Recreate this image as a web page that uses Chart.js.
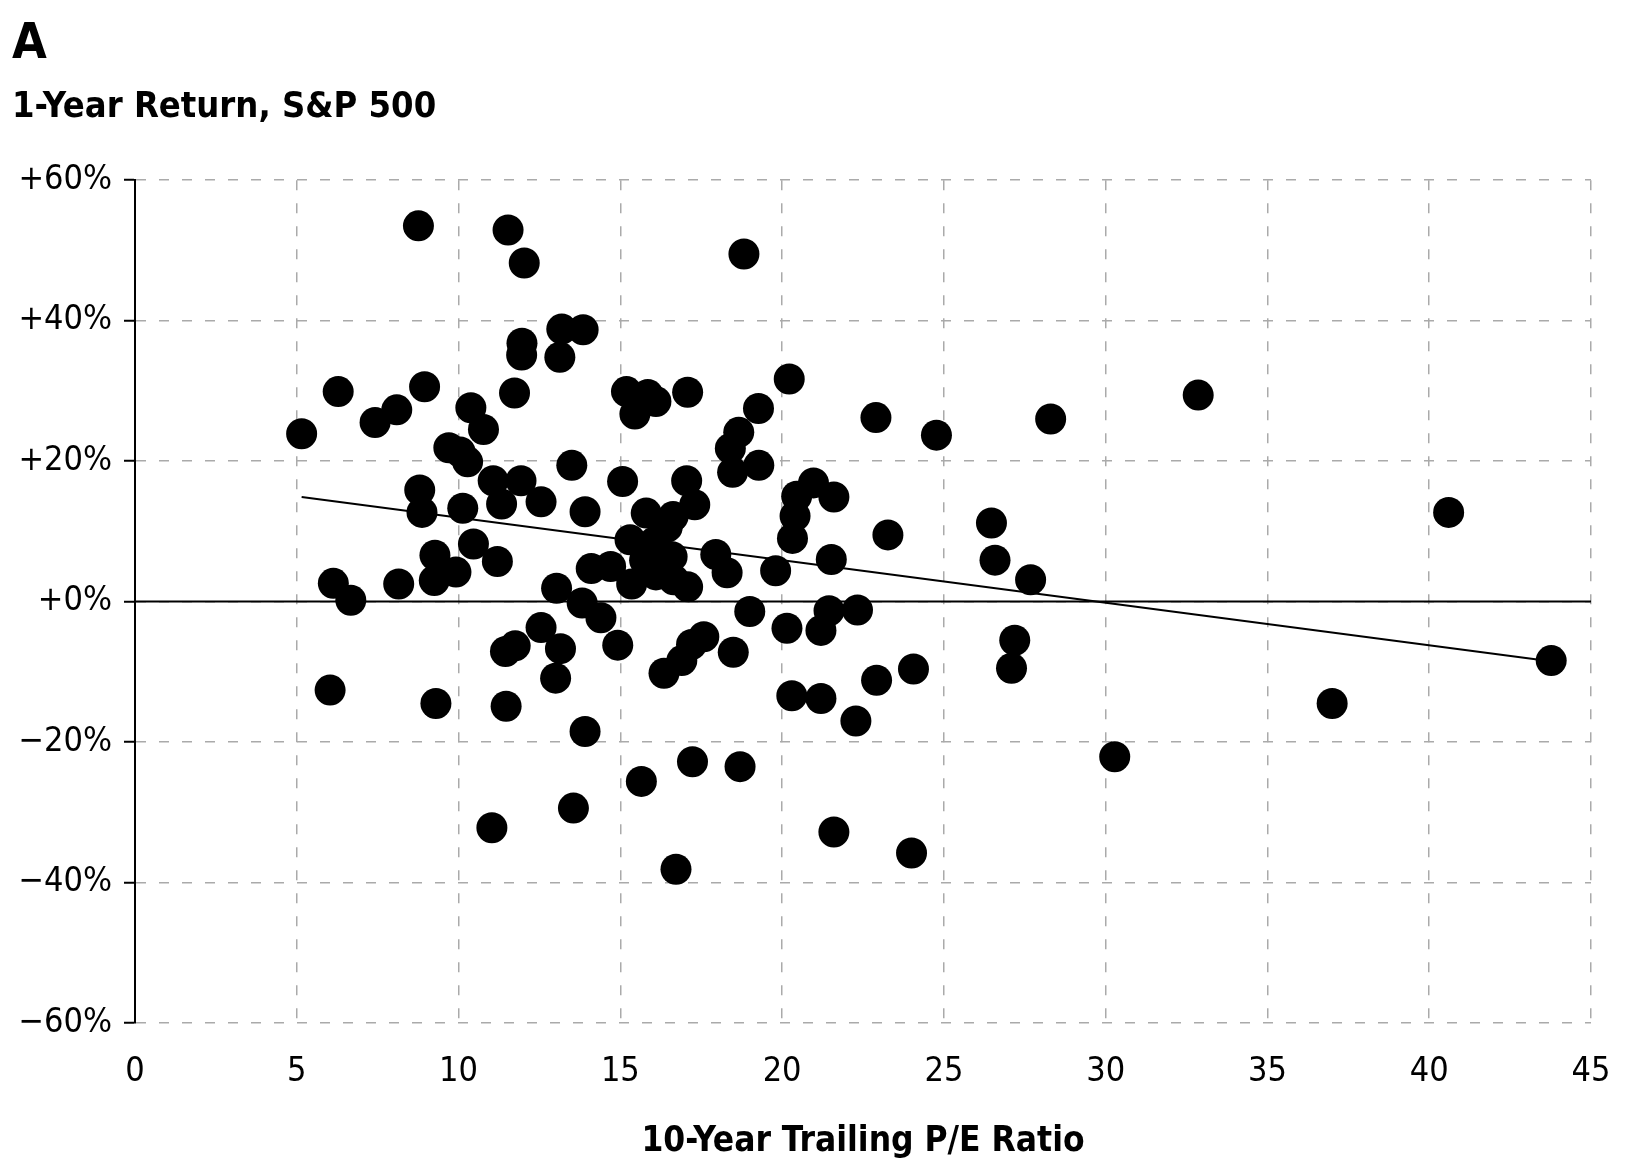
<!DOCTYPE html>
<html>
<head>
<meta charset="utf-8">
<title>1-Year Return vs 10-Year Trailing P/E</title>
<script src="https://cdn.jsdelivr.net/npm/chart.js@4.4.1/dist/chart.umd.min.js"></script>
<style>
    html, body { margin: 0; padding: 0; background: #fff; }
    #wrap { width: 1627px; height: 1159px; position: relative; }
</style>
</head>
<body>
<div id="wrap"><canvas id="chart"></canvas></div>
<script>
// P/E 與報酬資料
const peRatio = [
    5.15, 6.28, 7.42, 8.09, 8.95, 8.76, 11.53, 12.03, 18.82, 13.19,
    13.85, 11.96, 11.95, 13.13, 11.73, 10.38, 10.77, 9.7, 10.05, 10.28,
    13.5, 15.07, 15.19, 15.45, 15.85, 16.1, 17.08, 20.22, 19.27, 18.66,
    18.4, 19.28, 18.47, 8.8, 8.87, 10.13, 11.07, 11.33, 11.93, 12.55,
    13.91, 15.8, 17.05, 17.3, 16.63, 10.46, 9.27, 11.2, 9.92, 9.25,
    6.13, 6.67, 8.15, 13.03, 13.82, 14.4, 12.55, 11.45, 11.75, 13.15,
    14.92, 13.0, 9.3, 11.47, 13.91, 6.03, 11.03, 13.55, 15.65, 17.23,
    18.7, 16.72, 21.6, 24.0, 30.28, 37.0, 43.77, 40.6, 32.86, 28.3,
    24.77, 22.9, 14.1, 14.7, 15.3, 15.35, 15.75, 16.05, 16.45, 16.6,
    16.1, 16.65, 17.08, 17.95, 18.3, 19.8, 19.0, 20.15, 21.2, 21.45,
    22.33, 16.35, 16.9, 17.2, 17.58, 18.49, 20.3, 21.2, 22.92, 24.06,
    22.28, 20.97, 20.45, 21.6, 20.4, 20.32, 23.27, 21.52, 26.47, 26.58,
    27.68, 27.19, 27.09
];
const oneYearReturn = [
    23.9, 29.9, 25.5, 27.3, 30.6, 53.5, 52.9, 48.2, 49.5, 38.8,
    38.7, 36.8, 35.1, 34.8, 29.7, 27.6, 24.5, 21.9, 21.3, 19.9,
    19.4, 17.1, 29.9, 26.7, 29.5, 28.5, 29.8, 31.7, 27.5, 24.1,
    21.8, 19.4, 18.4, 15.9, 12.7, 13.3, 17.2, 13.9, 17.2, 14.2,
    12.8, 12.6, 17.2, 13.8, 12.1, 8.2, 6.6, 5.7, 4.2, 3.0,
    2.6, 0.2, 2.5, 1.9, -0.2, -2.3, -3.7, -7.1, -6.3, -6.7,
    -6.2, -10.9, -14.5, -14.9, -18.5, -12.6, -32.2, -29.4, -25.6, -22.8,
    -23.5, -38.1, -32.8, -35.8, -22.1, -14.5, -8.4, 12.7, 29.4, 26.0,
    23.7, 26.2, 4.7, 5.0, 8.8, 2.5, 5.9, 8.5, 10.6, 6.4,
    3.8, 3.1, 2.1, 6.7, 4.1, 4.4, -1.4, -3.8, -4.1, -1.3,
    -1.2, -10.2, -8.4, -6.1, -5.0, -7.2, -13.4, -13.8, -11.2, -9.6,
    -17.0, 16.9, 15.0, 14.9, 12.2, 9.0, 9.5, 6.0, 11.2, 5.9,
    3.1, -5.5, -9.5
];

// 趨勢線與零線端點
const trendX = [5.15, 43.75];
const trendY = [14.9, -8.5];
const zeroX = [0, 45];
const zeroY = [0, 0];

// 刻度標籤
const xTicks = [0, 5, 10, 15, 20, 25, 30, 35, 40, 45];
const yTicks = [-60, -40, -20, 0, 20, 40, 60];
const yTickLabels = ['\u221260%', '\u221240%', '\u221220%', '+0%', '+20%', '+40%', '+60%'];

const toPoints = (xs, ys) => xs.map((x, i) => ({ x: x, y: ys[i] }));

const GRID = '#aaaaaa';
const FONT = '"DejaVu Sans Condensed", "Liberation Sans Narrow", "DejaVu Sans", sans-serif';

document.addEventListener('DOMContentLoaded', function() {
    const ctx = document.getElementById('chart').getContext('2d');

    new Chart(ctx, {
        type: 'scatter',
        data: {
            datasets: [
                {
                    label: 'Years',
                    data: toPoints(peRatio, oneYearReturn),
                    backgroundColor: '#000',
                    borderWidth: 0,
                    pointRadius: 15.5,
                    pointHoverRadius: 15.5
                },
                {
                    type: 'line',
                    label: 'Trend',
                    data: toPoints(trendX, trendY),
                    borderColor: '#000',
                    borderWidth: 2,
                    pointRadius: 0,
                    fill: false
                },
                {
                    type: 'line',
                    label: 'Zero',
                    data: toPoints(zeroX, zeroY),
                    borderColor: '#000',
                    borderWidth: 2,
                    pointRadius: 0,
                    fill: false
                }
            ]
        },
        options: {
            responsive: true,
            maintainAspectRatio: false,
            animation: false,
            layout: {
                padding: { left: 12, right: 36, top: 0, bottom: 0 }
            },
            plugins: {
                legend: { display: false },
                tooltip: { enabled: false },
                title: {
                    display: true,
                    text: 'A',
                    align: 'start',
                    color: '#000',
                    font: { family: FONT, size: 50, weight: 'bold' },
                    padding: { top: 15, bottom: 0 }
                },
                subtitle: {
                    display: true,
                    text: '1-Year Return, S&P 500',
                    align: 'start',
                    color: '#000',
                    font: { family: FONT, size: 36, weight: 'bold' },
                    padding: { top: 11, bottom: 51 }
                }
            },
            scales: {
                x: {
                    type: 'linear',
                    min: 0,
                    max: 45,
                    afterBuildTicks: (scale) => {
                        scale.ticks = xTicks.map(v => ({ value: v }));
                    },
                    afterFit: (scale) => {
                        scale.height = 136;
                        scale.paddingLeft = 0;
                        scale.paddingRight = 0;
                    },
                    ticks: {
                        color: '#000',
                        padding: 29,
                        font: { family: FONT, size: 34 }
                    },
                    grid: {
                        color: GRID,
                        lineWidth: 1.5,
                        drawTicks: false
                    },
                    border: { display: false, dash: [10, 13] },
                    title: {
                        display: true,
                        text: '10-Year Trailing P/E Ratio',
                        color: '#000',
                        font: { family: FONT, size: 35, weight: 'bold', lineHeight: 1 },
                        padding: { top: 0, bottom: 0 }
                    }
                },
                y: {
                    type: 'linear',
                    min: -60,
                    max: 60,
                    afterBuildTicks: (scale) => {
                        scale.ticks = yTicks.map(v => ({ value: v }));
                    },
                    afterFit: (scale) => { scale.width = 123; },
                    ticks: {
                        color: '#000',
                        padding: 12,
                        font: { family: FONT, size: 34 },
                        callback: (value) => yTickLabels[yTicks.indexOf(value)]
                    },
                    grid: {
                        color: GRID,
                        lineWidth: 1.5,
                        tickLength: 11,
                        tickColor: '#000',
                        tickWidth: 2,
                        tickBorderDash: []
                    },
                    border: { display: true, color: '#000', width: 2, dash: [10, 13] }
                }
            }
        }
    });
});
</script>
</body>
</html>
